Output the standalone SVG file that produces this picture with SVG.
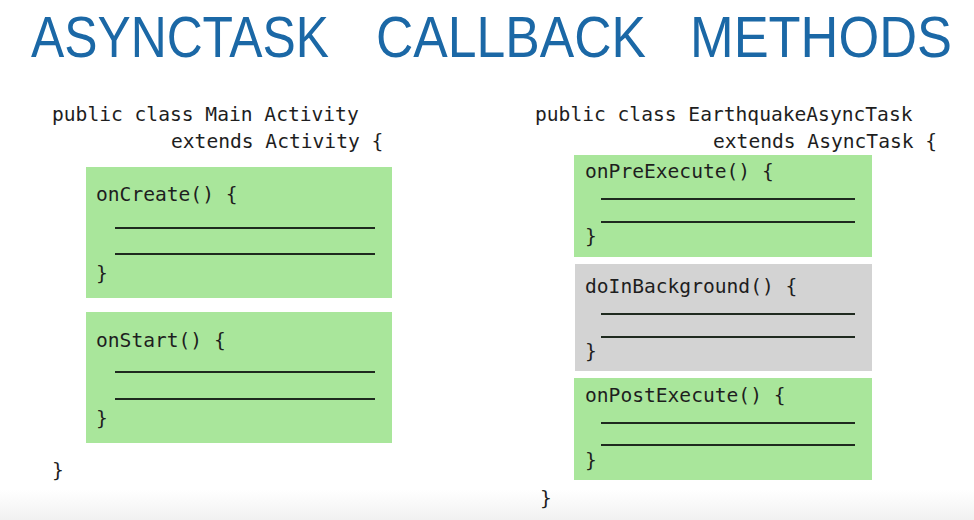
<svg xmlns="http://www.w3.org/2000/svg" width="974" height="520" viewBox="0 0 974 520">
<defs>
<linearGradient id="bottomFade" x1="0" y1="0" x2="0" y2="1">
<stop offset="0" stop-color="#ffffff"/>
<stop offset="1" stop-color="#f1f1f1"/>
</linearGradient>
</defs>
<style>
.title{font-family:"Liberation Sans","DejaVu Sans",sans-serif;font-size:57px;fill:#1b68a6;}
.code{font-family:"DejaVu Sans Mono","Liberation Mono",monospace;font-size:19.6px;fill:#1e1e1e;white-space:pre;}
.green{fill:#a9e69b;}
.gray{fill:#d3d3d3;}
.rule{stroke:#1f2a1f;stroke-width:1.8;}
</style>
<rect x="0" y="0" width="974" height="520" fill="#ffffff"/>
<rect x="0" y="490" width="974" height="30" fill="url(#bottomFade)"/>

<g id="title">
<text class="title" x="31" y="57" textLength="298" lengthAdjust="spacingAndGlyphs">ASYNCTASK</text>
<text class="title" x="376" y="57" textLength="270" lengthAdjust="spacingAndGlyphs">CALLBACK</text>
<text class="title" x="690" y="57" textLength="262" lengthAdjust="spacingAndGlyphs">METHODS</text>
</g>

<g id="main-activity">
<text class="code" x="52" y="121" xml:space="preserve">public class Main Activity</text>
<text class="code" x="171" y="148">extends Activity {</text>
<text class="code" x="52" y="477">}</text>
</g>

<g id="onCreate">
<rect class="green" x="86" y="167" width="306" height="131"/>
<text class="code" x="96" y="201">onCreate() {</text>
<line class="rule" x1="115" y1="228" x2="375" y2="228"/>
<line class="rule" x1="115" y1="254" x2="375" y2="254"/>
<text class="code" x="96" y="280">}</text>
</g>

<g id="onStart">
<rect class="green" x="86" y="312" width="306" height="131"/>
<text class="code" x="96" y="347">onStart() {</text>
<line class="rule" x1="115" y1="372" x2="375" y2="372"/>
<line class="rule" x1="115" y1="399" x2="375" y2="399"/>
<text class="code" x="96" y="425">}</text>
</g>

<g id="earthquake-async-task">
<text class="code" x="535" y="121">public class EarthquakeAsyncTask</text>
<text class="code" x="713" y="148">extends AsyncTask {</text>
<text class="code" x="540" y="505">}</text>
</g>

<g id="onPreExecute">
<rect class="green" x="574" y="155" width="298" height="102"/>
<text class="code" x="585" y="178">onPreExecute() {</text>
<line class="rule" x1="601" y1="199" x2="855" y2="199"/>
<line class="rule" x1="601" y1="222" x2="855" y2="222"/>
<text class="code" x="585" y="243">}</text>
</g>

<g id="doInBackground">
<rect class="gray" x="575" y="264" width="297" height="107"/>
<text class="code" x="585" y="293">doInBackground() {</text>
<line class="rule" x1="601" y1="314" x2="855" y2="314"/>
<line class="rule" x1="601" y1="337" x2="855" y2="337"/>
<text class="code" x="585" y="358">}</text>
</g>

<g id="onPostExecute">
<rect class="green" x="574" y="378" width="298" height="102"/>
<text class="code" x="585" y="402">onPostExecute() {</text>
<line class="rule" x1="601" y1="423" x2="855" y2="423"/>
<line class="rule" x1="601" y1="445" x2="855" y2="445"/>
<text class="code" x="585" y="467">}</text>
</g>

<g id="connectors"></g>
</svg>
